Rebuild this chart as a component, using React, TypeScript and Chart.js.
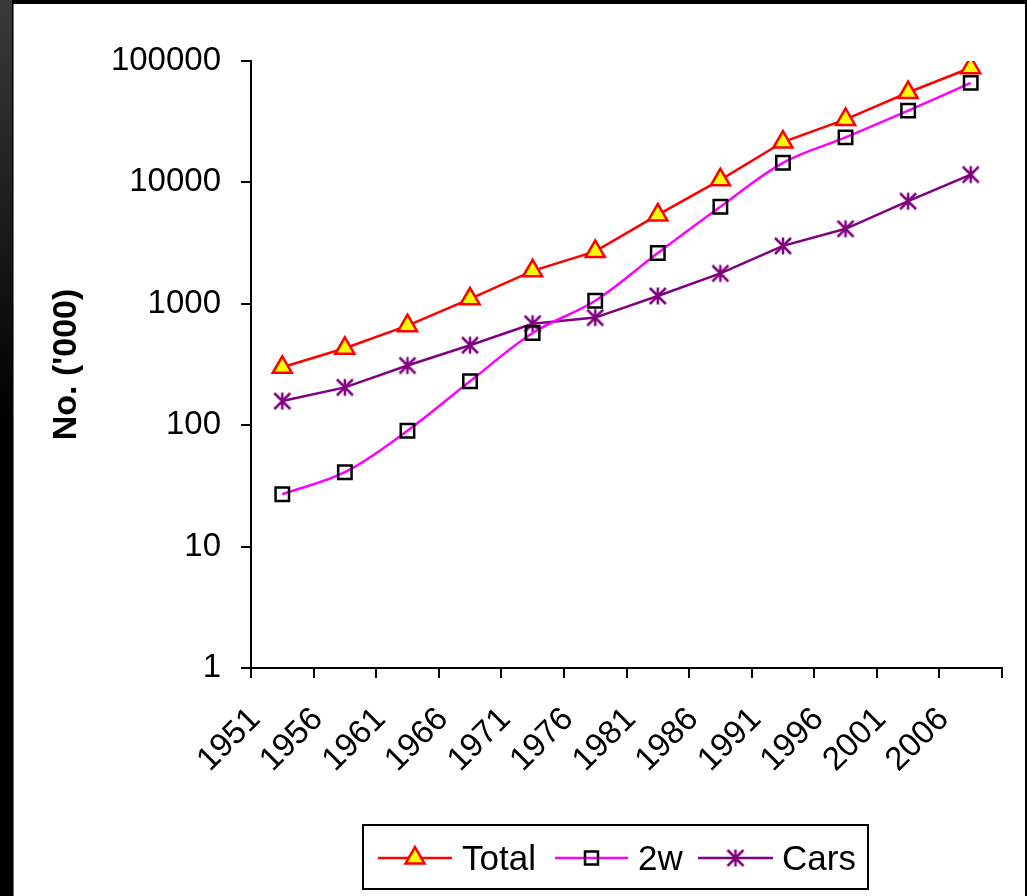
import React, { useEffect, useRef } from "react";
import { Chart, registerables } from "chart.js";

Chart.register(...registerables);

const years = ["1951", "1956", "1961", "1966", "1971", "1976", "1981", "1986", "1991", "1996", "2001", "2006"];
const totalValues = [300, 430, 660, 1100, 1870, 2700, 5400, 10500, 21500, 33000, 55000, 88000];
const twoWheelerValues = [27, 41, 90, 230, 575, 1060, 2620, 6300, 14500, 23500, 39000, 66000];
const carValues = [158, 205, 310, 456, 685, 770, 1160, 1780, 3000, 4150, 7000, 11600];
const yTickValues = [1, 10, 100, 1000, 10000, 100000];
const seriesNames = ["Total", "2w", "Cars"];

const FONT = "Arial, 'Liberation Sans', sans-serif";

function makeAsterisk(color: string, size: number, lw: number): HTMLCanvasElement {
  const c = document.createElement("canvas");
  c.width = size;
  c.height = size;
  const ctx = c.getContext("2d")!;
  ctx.strokeStyle = color;
  ctx.lineWidth = lw;
  ctx.lineCap = "butt";
  const p = 2;
  const m = size / 2;
  ctx.beginPath();
  ctx.moveTo(p, p);
  ctx.lineTo(size - p, size - p);
  ctx.moveTo(size - p, p);
  ctx.lineTo(p, size - p);
  ctx.moveTo(m, p - 0.5);
  ctx.lineTo(m, size - p + 0.5);
  ctx.stroke();
  return c;
}

const backgroundPlugin = {
  id: "frameBackground",
  beforeDraw(chart: any) {
    const { ctx, width, height } = chart;
    ctx.save();
    ctx.fillStyle = "#000";
    ctx.fillRect(0, 0, width, height);
    const g = ctx.createLinearGradient(0, 0, 0, 420);
    g.addColorStop(0, "#3a3a3a");
    g.addColorStop(1, "#000");
    ctx.fillStyle = g;
    ctx.fillRect(0, 0, 12, height);
    ctx.fillStyle = "#777";
    ctx.fillRect(13, 4, 1, height);
    ctx.fillStyle = "#fff";
    ctx.fillRect(14, 4, 1011, height - 4);
    ctx.restore();
  },
};

const legendPlugin = {
  id: "customLegend",
  afterDraw(chart: any) {
    const ctx = chart.ctx;
    ctx.save();
    ctx.strokeStyle = "#000";
    ctx.lineWidth = 2;
    ctx.strokeRect(363, 825, 505, 64);
    const y = 858;
    const items = [
      { x0: 378, x1: 452, tx: 462 },
      { x0: 555, x1: 628, tx: 638 },
      { x0: 698, x1: 773, tx: 782 },
    ];
    chart.data.datasets.forEach((ds: any, i: number) => {
      const it = items[i];
      ctx.strokeStyle = ds.borderColor;
      ctx.lineWidth = 2.5;
      ctx.beginPath();
      ctx.moveTo(it.x0, y);
      ctx.lineTo(it.x1, y);
      ctx.stroke();
      const cx = (it.x0 + it.x1) / 2;
      if (i === 0) {
        const r = 11;
        ctx.beginPath();
        ctx.moveTo(cx, y - r);
        ctx.lineTo(cx + r * 0.866, y + r * 0.5);
        ctx.lineTo(cx - r * 0.866, y + r * 0.5);
        ctx.closePath();
        ctx.fillStyle = ds.pointBackgroundColor;
        ctx.fill();
        ctx.strokeStyle = ds.pointBorderColor;
        ctx.lineWidth = 2.5;
        ctx.stroke();
      } else if (i === 1) {
        ctx.strokeStyle = ds.pointBorderColor;
        ctx.lineWidth = 2.5;
        ctx.strokeRect(cx - 6.5, y - 6.5, 13, 13);
      } else {
        const img = ds.pointStyle as HTMLCanvasElement;
        ctx.drawImage(img, cx - img.width / 2, y - img.height / 2);
      }
      ctx.fillStyle = "#000";
      ctx.font = `35px ${FONT}`;
      ctx.textBaseline = "alphabetic";
      ctx.textAlign = "left";
      ctx.fillText(ds.label, it.tx, y + 12);
    });
    ctx.restore();
  },
};

export default function App() {
  const ref = useRef<HTMLCanvasElement | null>(null);
  useEffect(() => {
    document.body.style.margin = "0";
    const canvas = ref.current!;
    const asterisk = makeAsterisk("#800080", 20, 2.5);
    const chart = new Chart(canvas, {
      type: "line",
      data: {
        labels: years,
        datasets: [
          {
            label: seriesNames[0],
            data: totalValues,
            borderColor: "#FF0000",
            borderWidth: 2.5,
            pointStyle: "triangle",
            pointRadius: 11,
            pointBackgroundColor: "#FFFF00",
            pointBorderColor: "#FF0000",
            pointBorderWidth: 2.5,
            tension: 0,
          },
          {
            label: seriesNames[1],
            data: twoWheelerValues,
            borderColor: "#FF00FF",
            borderWidth: 2.5,
            pointStyle: "rect",
            pointRadius: 9.5,
            pointBackgroundColor: "rgba(0,0,0,0)",
            pointBorderColor: "#000",
            pointBorderWidth: 2.5,
            tension: 0.35,
          },
          {
            label: seriesNames[2],
            data: carValues,
            borderColor: "#800080",
            borderWidth: 2.5,
            pointStyle: asterisk as any,
            pointRadius: 10,
            tension: 0,
          },
        ],
      },
      options: {
        animation: false,
        responsive: false,
        events: [],
        layout: { padding: { left: 15, right: 25, top: 61, bottom: 88 } },
        plugins: { legend: { display: false }, tooltip: { enabled: false } },
        scales: {
          x: {
            type: "category",
            offset: true,
            grid: {
              offset: true,
              drawOnChartArea: false,
              drawTicks: true,
              tickLength: 10,
              color: "#000",
              lineWidth: 2,
            },
            border: { display: true, color: "#000", width: 2 },
            ticks: {
              autoSkip: false,
              minRotation: 45,
              maxRotation: 45,
              color: "#000",
              font: { family: FONT, size: 33 },
              padding: 22,
              labelOffset: -27,
            },
            afterFit: (scale: any) => {
              scale.height = 140;
            },
          },
          y: {
            type: "logarithmic",
            min: 1,
            max: 100000,
            afterBuildTicks: (scale: any) => {
              scale.ticks = yTickValues.map((v) => ({ value: v }));
            },
            grid: {
              drawOnChartArea: false,
              drawTicks: true,
              tickLength: 10,
              color: "#000",
              lineWidth: 2,
            },
            border: { display: true, color: "#000", width: 2 },
            ticks: {
              color: "#000",
              font: { family: FONT, size: 33 },
              padding: 20,
              callback: (v: any) => String(v),
            },
            title: {
              display: true,
              text: "No. ('000)",
              color: "#000",
              font: { family: FONT, size: 34, weight: "bold" },
              padding: { top: 31, bottom: 0 },
            },
            afterFit: (scale: any) => {
              scale.width = 236;
            },
          },
        },
      },
      plugins: [backgroundPlugin, legendPlugin],
    });
    return () => chart.destroy();
  }, []);
  return (
    <div style={{ width: 1027, height: 896 }}>
      <canvas ref={ref} width={1027} height={896} style={{ display: "block" }} />
    </div>
  );
}
